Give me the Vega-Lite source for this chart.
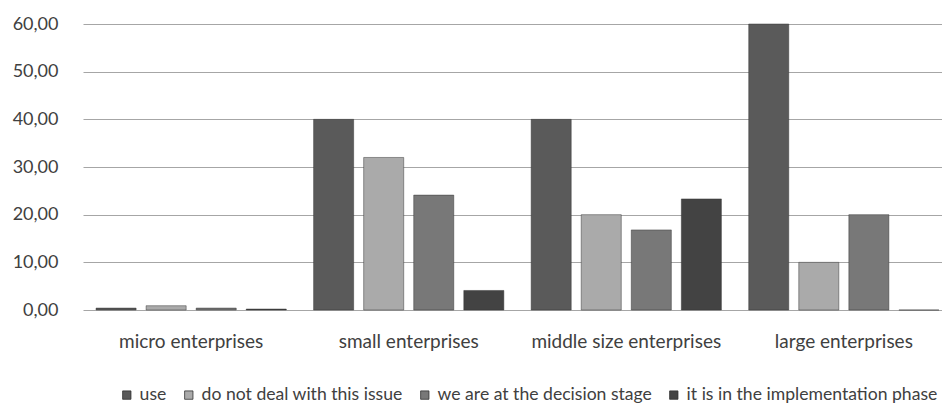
{
  "$schema": "https://vega.github.io/schema/vega-lite/v6.json",
  "width": 869,
  "height": 286,
  "autosize": {"type": "none"},
  "padding": {"left": 83, "top": 24, "right": -10, "bottom": 95},
  "background": "white",
  "config": {"view": {"stroke": null}, "font": "Lato"},
  "data": {
    "values": [
      {"category": "micro enterprises", "series": "use", "value": 0.4},
      {"category": "micro enterprises", "series": "do not deal with this issue", "value": 0.9},
      {"category": "micro enterprises", "series": "we are at the decision stage", "value": 0.4},
      {"category": "micro enterprises", "series": "it is in the implementation phase", "value": 0.2},
      {"category": "small enterprises", "series": "use", "value": 40},
      {"category": "small enterprises", "series": "do not deal with this issue", "value": 32},
      {"category": "small enterprises", "series": "we are at the decision stage", "value": 24.1},
      {"category": "small enterprises", "series": "it is in the implementation phase", "value": 4.1},
      {"category": "middle size enterprises", "series": "use", "value": 40},
      {"category": "middle size enterprises", "series": "do not deal with this issue", "value": 20},
      {"category": "middle size enterprises", "series": "we are at the decision stage", "value": 16.8},
      {"category": "middle size enterprises", "series": "it is in the implementation phase", "value": 23.3},
      {"category": "large enterprises", "series": "use", "value": 60},
      {"category": "large enterprises", "series": "do not deal with this issue", "value": 10},
      {"category": "large enterprises", "series": "we are at the decision stage", "value": 20},
      {"category": "large enterprises", "series": "it is in the implementation phase", "value": 0}
    ]
  },
  "mark": {"type": "bar", "stroke": "#333333", "strokeWidth": 0.8, "strokeOpacity": 0.6},
  "encoding": {
    "x": {
      "field": "category",
      "type": "nominal",
      "sort": ["micro enterprises", "small enterprises", "middle size enterprises", "large enterprises"],
      "scale": {"paddingInner": 0.1256, "paddingOuter": 0.06},
      "axis": {
        "title": null,
        "labelAngle": 0,
        "domain": false,
        "ticks": false,
        "labelPadding": 22,
        "labelFontSize": 19,
        "labelColor": "#404040",
        "labelFont": "Lato",
        "labelLimit": 400,
        "labelOverlap": false
      }
    },
    "xOffset": {
      "field": "series",
      "type": "nominal",
      "sort": ["use", "do not deal with this issue", "we are at the decision stage", "it is in the implementation phase"],
      "scale": {"paddingInner": 0.2, "paddingOuter": 0}
    },
    "y": {
      "field": "value",
      "type": "quantitative",
      "scale": {"domain": [0, 60], "nice": false},
      "axis": {
        "title": null,
        "values": [0, 10, 20, 30, 40, 50, 60],
        "labelExpr": "replace(format(datum.value, '.2f'), '.', ',')",
        "domain": false,
        "ticks": false,
        "labelPadding": 25,
        "labelFontSize": 18,
        "labelColor": "#404040",
        "labelFont": "Lato",
        "gridColor": "#a6a6a6",
        "gridWidth": 1.2
      }
    },
    "color": {
      "field": "series",
      "type": "nominal",
      "sort": ["use", "do not deal with this issue", "we are at the decision stage", "it is in the implementation phase"],
      "scale": {
        "domain": ["use", "do not deal with this issue", "we are at the decision stage", "it is in the implementation phase"],
        "range": ["#5a5a5a", "#aaaaaa", "#787878", "#434343"]
      },
      "legend": {
        "title": null,
        "orient": "none",
        "direction": "horizontal",
        "columns": 4,
        "legendX": 35,
        "legendY": 362,
        "symbolType": "square",
        "symbolSize": 70,
        "symbolStrokeColor": "#333333",
        "symbolStrokeWidth": 0.8,
        "labelFontSize": 17.6,
        "labelColor": "#404040",
        "labelFont": "Lato",
        "labelOffset": 4,
        "columnPadding": 13,
        "labelLimit": 400
      }
    }
  }
}
